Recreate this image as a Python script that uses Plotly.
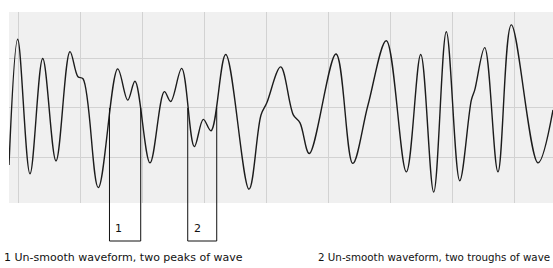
import plotly.graph_objects as go

# Waveform key samples (time units, amplitude)
wave_t = [-1.45, -0.05, 1.93, 3.98, 6.12, 8.37, 9.66, 10.47, 12.93, 16.05, 17.67, 18.84,
          21.26, 23.56, 24.59, 26.36, 28.39, 29.84, 31.08, 33.45, 37.20, 39.13, 40.05,
          42.30, 44.33, 45.41, 46.91, 51.21, 53.90, 56.36, 59.31, 62.53, 64.85, 66.94,
          68.97, 71.13, 73.00, 73.54, 75.15, 77.29, 79.44, 83.74, 86.15]
wave_v = [-1.15, 1.39, -1.33, 1.00, -1.07, 1.14, 0.63, 0.59, -1.61, 0.79, 0.16, 0.54,
          -1.11, 0.33, 0.13, 0.80, -0.78, -0.23, -0.46, 1.08, -1.64, -0.14, 0.10,
          0.83, -0.14, -0.30, -0.92, 1.09, -1.12, 0.06, 1.36, -1.29, 1.08, -1.70,
          1.54, -1.47, 0.16, 0.36, 1.22, -1.29, 1.68, -1.11, -0.04]

box_labels = ["1", "2"]
box_start = [14.73, 27.33]
box_end = [19.76, 32.0]
captions = ["1 Un-smooth waveform, two peaks of wave",
            "2 Un-smooth waveform, two troughs of wave"]

X_RANGE = [-1.45, 86.15]
Y_RANGE = [-1.92, 1.94]

W, H = 553, 268
ML, MR, MT, MB = 9, 0, 12, 65
PW = W - ML - MR
PH = H - MT - MB


def xpaper(t):
    return (t - X_RANGE[0]) / (X_RANGE[1] - X_RANGE[0])


def ypaper(v):
    return (v - Y_RANGE[0]) / (Y_RANGE[1] - Y_RANGE[0])


fig = go.Figure()
fig.add_trace(go.Scatter(x=wave_t, y=wave_v, mode="lines",
                         line=dict(color="#1c1c1c", width=1.4, shape="spline", smoothing=1.0),
                         hoverinfo="skip", showlegend=False))

shapes = []
annotations = []
y_top = ypaper(0.0)
y_bot = -(241 - (H - MB)) / PH
for lab, a, b in zip(box_labels, box_start, box_end):
    x0, x1 = xpaper(a), xpaper(b)
    shapes.append(dict(type="path", xref="paper", yref="paper",
                       path=f"M {x0},{y_top} L {x0},{y_bot} L {x1},{y_bot} L {x1},{y_top}",
                       line=dict(color="#111111", width=1)))
    annotations.append(dict(text=lab, xref="paper", yref="paper", x=x0 + 4 / PW,
                            y=-(228 - (H - MB)) / PH, xanchor="left", yanchor="middle",
                            showarrow=False, font=dict(family="DejaVu Sans", size=11, color="#111111")))

cap_y = -(257 - (H - MB)) / PH
annotations.append(dict(text=captions[0], xref="paper", yref="paper", x=(2 - ML) / PW,
                        y=cap_y, xanchor="left", yanchor="middle", showarrow=False,
                        font=dict(family="DejaVu Sans", size=11, color="#111111")))
annotations.append(dict(text=captions[1], xref="paper", yref="paper", x=(552 - ML) / PW,
                        y=cap_y, xanchor="right", yanchor="middle", showarrow=False,
                        font=dict(family="DejaVu Sans", size=10.3, color="#111111")))

fig.update_layout(
    width=W, height=H,
    margin=dict(l=ML, r=MR, t=MT, b=MB),
    paper_bgcolor="white", plot_bgcolor="#f0f0f0",
    xaxis=dict(range=X_RANGE, dtick=10, tick0=0, showticklabels=False, ticks="",
               showgrid=True, gridcolor="#d2d2d2", gridwidth=1, zeroline=False,
               showline=False, fixedrange=True),
    yaxis=dict(range=Y_RANGE, dtick=1, tick0=0, showticklabels=False, ticks="",
               showgrid=True, gridcolor="#d2d2d2", gridwidth=1, zeroline=False,
               showline=False, fixedrange=True),
    shapes=shapes, annotations=annotations,
)

fig.write_html("out.html", config={"displayModeBar": False},
               post_script="document.body.style.margin='0px';document.body.style.overflow='hidden';")
